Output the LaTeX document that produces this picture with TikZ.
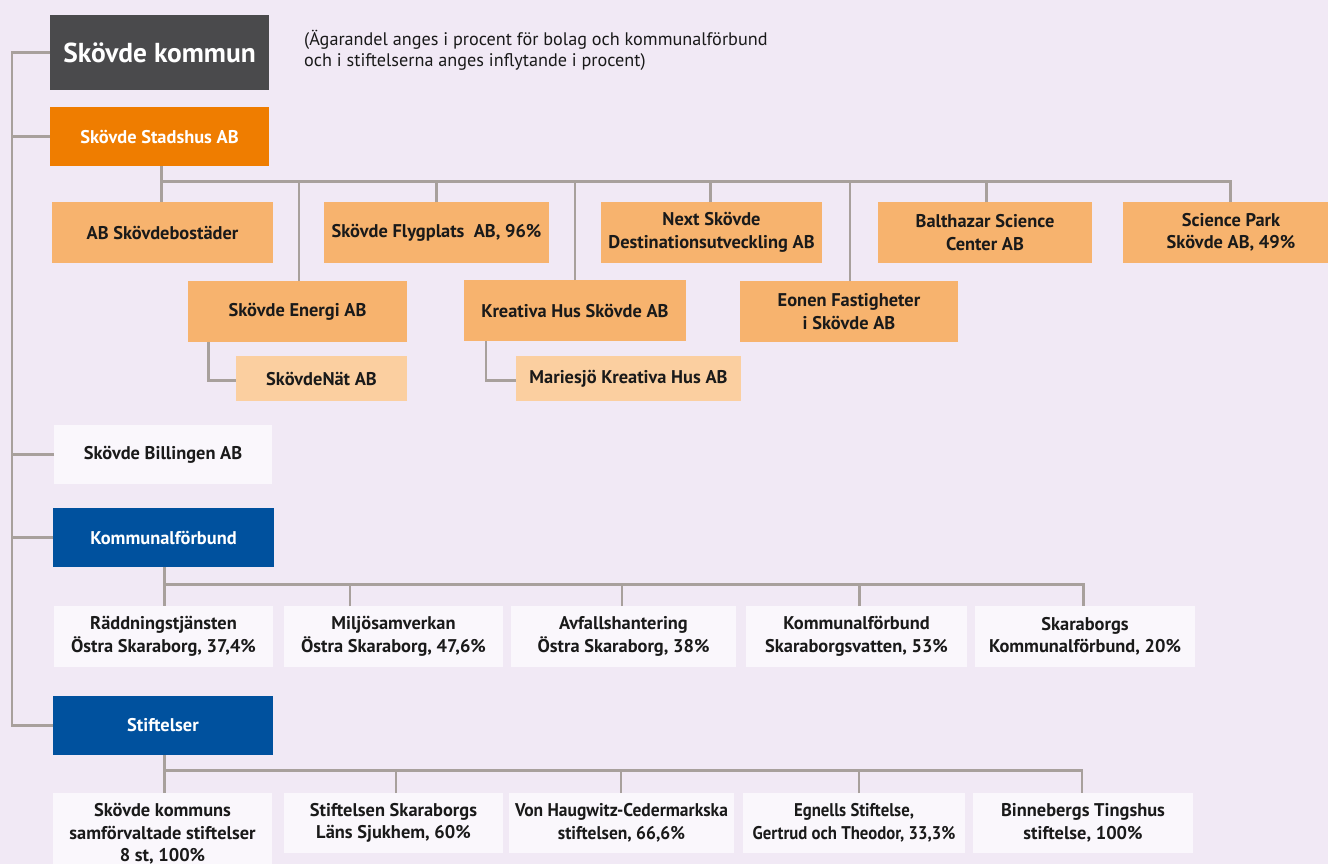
\documentclass[tikz,border=0pt]{standalone}
\usepackage{fontspec}
\setmainfont{PT Sans}
\usetikzlibrary{calc}
\definecolor{bg}{HTML}{F1E9F5}
\definecolor{darkbox}{HTML}{4A4A4C}
\definecolor{orangeA}{HTML}{EF7D00}
\definecolor{orangeB}{HTML}{F7B36E}
\definecolor{orangeC}{HTML}{FBCFA0}
\definecolor{whitebox}{HTML}{FAF7FC}
\definecolor{bluebox}{HTML}{00519E}
\definecolor{linec}{HTML}{A8A09C}
\definecolor{txt}{HTML}{1A1A1A}
\tikzset{
  base/.style={inner sep=0pt, outer sep=0pt, align=center, font=\fontsize{18.4}{22.5}\selectfont\bfseries, text=txt},
  topbox/.style={base, fill=darkbox, text=white, font=\fontsize{27.4}{30}\selectfont\bfseries},
  headorange/.style={base, fill=orangeA, text=white},
  orgbox/.style={base, fill=orangeB},
  subbox/.style={base, fill=orangeC},
  wbox/.style={base, fill=whitebox},
  headblue/.style={base, fill=bluebox, text=white},
  squeezeA/.style={font=\fontsize{18.4}{22.5}\selectfont\bfseries\addfontfeatures{FakeStretch=0.95}},
  squeezeB/.style={font=\fontsize{18.4}{22.5}\selectfont\bfseries\addfontfeatures{FakeStretch=0.91}},
  conn/.style={draw=linec, line width=2.6pt},
  note/.style={inner sep=0pt, anchor=north west, align=left, text=txt, font=\fontsize{18.2}{21}\selectfont}
}
\begin{document}
\begin{tikzpicture}[x=1pt,y=-1pt]
\fill[bg] (0,0) rectangle (1328,864);
\useasboundingbox (0,0) rectangle (1328,864);

% top
\node[topbox, minimum width=219pt, minimum height=75pt] (kommun) at (159.5,52.5) {Skövde kommun};
\node[note] (note) at (304,30) {(Ägarandel anges i procent för bolag och kommunalförbund\\och i stiftelserna anges inflytande i procent)};
\node[headorange, minimum width=219pt, minimum height=59pt] (stadshus) at (159.5,136.5) {Skövde Stadshus AB};

% bolag row 1
\node[orgbox, minimum width=221pt, minimum height=61pt] (bost) at (162.5,232.5) {AB Skövdebostäder};
\node[orgbox, minimum width=225pt, minimum height=61pt] (flyg) at (436.5,232.5) {Skövde Flygplats\ \ AB, 96\%};
\node[orgbox, minimum width=221pt, minimum height=61pt] (next) at (711.5,232.5) {Next Skövde\\Destinationsutveckling AB};
\node[orgbox, minimum width=214pt, minimum height=61pt] (balt) at (985,232.5) {Balthazar Science\\Center AB};
\node[orgbox, minimum width=216pt, minimum height=61pt] (sci) at (1231,232.5) {Science Park\\Skövde AB, 49\%};
% bolag row 2
\node[orgbox, minimum width=219pt, minimum height=61pt] (energi) at (297.5,311.5) {Skövde Energi AB};
\node[orgbox, minimum width=222pt, minimum height=61pt] (kreativa) at (575,310.5) {Kreativa Hus Skövde AB};
\node[orgbox, minimum width=218pt, minimum height=61pt] (eonen) at (849,311.5) {Eonen Fastigheter\\i Skövde AB};
% dotterbolag
\node[subbox, minimum width=171pt, minimum height=45pt] (nat) at (321.5,378.5) {SkövdeNät AB};
\node[subbox, minimum width=225pt, minimum height=45pt] (maries) at (628.5,378.5) {Mariesjö Kreativa Hus AB};

% Billingen
\node[wbox, minimum width=218pt, minimum height=59pt] (bill) at (163,454.5) {Skövde Billingen AB};

% Kommunalförbund
\node[headblue, minimum width=221pt, minimum height=59pt] (kf) at (163.5,537.5) {Kommunalförbund};
\node[wbox, minimum width=219pt, minimum height=61pt] (radd) at (163.5,636.5) {Räddningstjänsten\\Östra Skaraborg, 37,4\%};
\node[wbox, minimum width=219pt, minimum height=61pt] (milj) at (393.5,636.5) {Miljösamverkan\\Östra Skaraborg, 47,6\%};
\node[wbox, minimum width=225pt, minimum height=61pt] (avf) at (623.5,636.5) {Avfallshantering\\Östra Skaraborg, 38\%};
\node[wbox, minimum width=221pt, minimum height=61pt] (kfsv) at (856.5,636.5) {Kommunalförbund\\Skaraborgsvatten, 53\%};
\node[wbox, minimum width=220pt, minimum height=61pt] (skkf) at (1085,636.5) {Skaraborgs\\Kommunalförbund, 20\%};

% Stiftelser
\node[headblue, minimum width=220pt, minimum height=59pt] (stift) at (163,725.5) {Stiftelser};
\node[wbox, minimum width=219pt, minimum height=82pt] (skk) at (162.5,834) {Skövde kommuns\\samförvaltade stiftelser\\8 st, 100\%};
\node[wbox, minimum width=219pt, minimum height=60pt] (stsk) at (393.5,823) {Stiftelsen Skaraborgs\\Läns Sjukhem, 60\%};
\node[wbox, squeezeA, minimum width=225pt, minimum height=60pt] (von) at (621.5,823) {Von Haugwitz-Cedermarkska\\stiftelsen, 66,6\%};
\node[wbox, squeezeB, minimum width=222pt, minimum height=60pt] (egn) at (854,823) {Egnells Stiftelse,\\Gertrud och Theodor, 33,3\%};
\node[wbox, minimum width=220pt, minimum height=60pt] (binn) at (1083,823) {Binnebergs Tingshus\\stiftelse, 100\%};

% helper coordinates
\coordinate (trunk) at (12,0);
\coordinate (sbus) at (0,181.7);
\coordinate (kbus) at (0,584.3);
\coordinate (tbus) at (0,770.7);
\coordinate (natbend) at (208.6,380.7);
\coordinate (marbend) at (486,380.7);

% trunk
\draw[conn] (kommun.west) -- (kommun.west -| trunk) -- (stift.west -| trunk) -- (stift.west);
\draw[conn] (stadshus.west) -- (stadshus.west -| trunk);
\draw[conn] (bill.west) -- (bill.west -| trunk);
\draw[conn] (kf.west) -- (kf.west -| trunk);

% Stadshus bus
\coordinate (sdrop) at (161.7,0);
\draw[conn] (sdrop |- stadshus.south) -- (sdrop |- sbus) -- ([xshift=-0.3pt]sci.north |- sbus) -- ([xshift=-0.3pt]sci.north);
\draw[conn] (sdrop |- sbus) -- (sdrop |- bost.north);
\draw[conn] ([xshift=1.5pt]energi.north) -- ([xshift=1.5pt]energi.north |- sbus);
\draw[conn] (flyg.north) -- (flyg.north |- sbus);
\draw[conn] (kreativa.north) -- (kreativa.north |- sbus);
\draw[conn] ([xshift=-0.8pt]next.north) -- ([xshift=-0.8pt]next.north |- sbus);
\draw[conn] ([xshift=1pt]eonen.north) -- ([xshift=1pt]eonen.north |- sbus);
\draw[conn] ([xshift=1.5pt]balt.north) -- ([xshift=1.5pt]balt.north |- sbus);

% children of Energi, Kreativa
\draw[conn] (natbend |- energi.south) -- (natbend) -- (nat.west |- natbend);
\draw[conn] (marbend |- kreativa.south) -- (marbend) -- (maries.west |- marbend);

% Kommunalförbund bus
\coordinate (kdrop) at (164.7,0);
\coordinate (kend) at (1083.4,0);
\draw[conn] (kdrop |- kf.south) -- (kdrop |- kbus) -- (kend |- kbus) -- (kend |- skkf.north);
\draw[conn] (kdrop |- kbus) -- (kdrop |- radd.north);
\draw[conn] ([xshift=-43.5pt]milj.north) -- ([xshift=-43.5pt]milj.north |- kbus);
\draw[conn] ([xshift=-1.5pt]avf.north) -- ([xshift=-1.5pt]avf.north |- kbus);
\draw[conn] ([xshift=3pt]kfsv.north) -- ([xshift=3pt]kfsv.north |- kbus);

% Stiftelser bus
\coordinate (tdrop) at (164.5,0);
\coordinate (tend) at (1082,0);
\draw[conn] (tdrop |- stift.south) -- (tdrop |- tbus) -- (tend |- tbus) -- (tend |- binn.north);
\draw[conn] (tdrop |- tbus) -- (tdrop |- skk.north);
\draw[conn] ([xshift=2.5pt]stsk.north) -- ([xshift=2.5pt]stsk.north |- tbus);
\draw[conn] ([xshift=-0.5pt]von.north) -- ([xshift=-0.5pt]von.north |- tbus);
\draw[conn] ([xshift=5pt]egn.north) -- ([xshift=5pt]egn.north |- tbus);
\end{tikzpicture}
\end{document}
